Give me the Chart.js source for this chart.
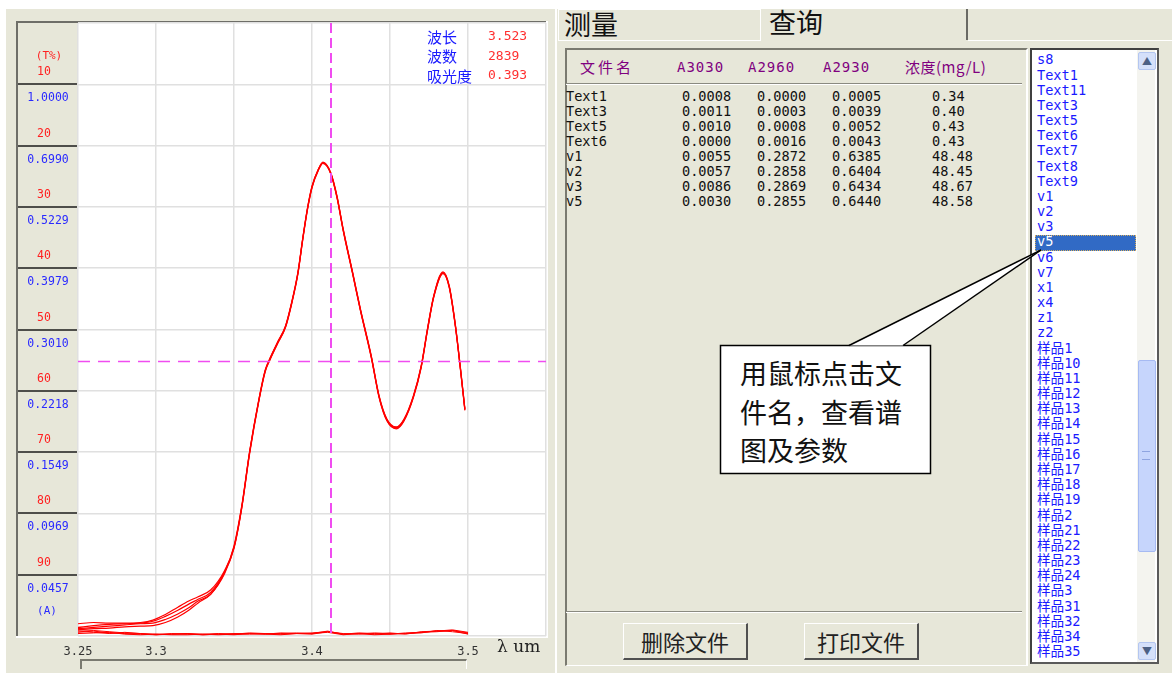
<!DOCTYPE html>
<html lang="zh">
<head>
<meta charset="UTF-8">
<title>查询</title>
<script src="https://cdn.jsdelivr.net/npm/chart.js"></script>
<style>
  body { margin:0; width:1172px; height:673px; background:#fff; position:relative; overflow:hidden;
         font-family:"Noto Sans CJK SC", sans-serif; }
  .abs { position:absolute; }
  .beige { background:#e7e7d9; }
  .mono { font-family:"DejaVu Sans Mono", monospace; }
  .btn { position:absolute; top:623px; height:34px; background:#e7e7d9; border-top:1px solid #fff; border-left:1px solid #fff;
         border-right:2px solid #505050; border-bottom:2px solid #505050; font-size:22px; line-height:34px; text-align:center; color:#222; }
  .sep { position:absolute; left:566px; width:456px; height:1px; background:#8a8a80; border-bottom:1px solid #fff; }
</style>
</head>
<body>
<!-- left chart panel -->
<div class="abs beige" style="left:6px;top:9px;width:549px;height:664px;"></div>
<canvas id="spec" class="abs" width="549" height="663" style="left:6px;top:9px;"></canvas>
<div class="abs" style="left:80px;top:659px;width:384px;height:8px;border-top:2px solid #7a7a70;border-left:2px solid #7a7a70;border-right:1px solid #fff;"></div>

<!-- right panel -->
<div class="abs beige" style="left:557px;top:9px;width:615px;height:664px;"></div>
<div class="abs" style="left:558px;top:9px;width:201px;height:30px;border-left:1px solid #fff;border-top:1px solid #fff;border-right:1px solid #fff;border-bottom:1px solid #fff;"></div>
<div class="abs" style="left:761px;top:9px;width:205px;height:31px;border-right:2px solid #6a6a64;"></div>
<div class="abs" style="left:968px;top:40px;width:204px;height:1px;background:#fff;"></div>
<div class="abs" style="left:564px;top:5px;font-size:27px;line-height:38px;color:#111;">测量</div>
<div class="abs" style="left:769px;top:3px;font-size:27px;line-height:38px;color:#111;">查询</div>

<div class="abs" style="left:565px;top:48px;width:459px;height:615px;border-left:2px solid #7a7a70;border-top:2px solid #7a7a70;border-right:2px solid #fff;border-bottom:1px solid #fff;"></div>
<div class="sep" style="top:83px;"></div>
<div class="sep" style="top:611px;"></div>
<div id="table"></div>
<div class="btn" style="left:623px;width:122px;">删除文件</div>
<div class="btn" style="left:804px;width:112px;">打印文件</div>

<!-- file list -->
<div class="abs" style="left:1030px;top:48px;width:125px;height:612px;background:#fff;border-left:2px solid #404040;border-top:2px solid #404040;border-right:2px solid #5a5a5a;border-bottom:2px solid #5a5a5a;"></div>
<div class="abs" style="left:1137px;top:50px;width:18px;height:612px;background:#f4f4ef;"></div>
<div class="abs" style="left:1138px;top:52px;width:16px;height:16px;background:#d5e0fa;border:1px solid #b4c6f0;border-radius:2px;color:#4d6185;font-size:10px;line-height:16px;text-align:center;">&#9650;</div>
<div class="abs" style="left:1138px;top:642px;width:16px;height:16px;background:#d5e0fa;border:1px solid #b4c6f0;border-radius:2px;color:#4d6185;font-size:10px;line-height:16px;text-align:center;">&#9660;</div>
<div class="abs" style="left:1138px;top:360px;width:16px;height:190px;background:#c6d5fc;border:1px solid #a6baf2;border-radius:2px;"></div>
<div class="abs" style="left:1142px;top:451px;width:8px;height:7px;border-top:1px solid #8ea4e0;border-bottom:1px solid #8ea4e0;"></div>
<div class="abs" style="left:1035px;top:235px;width:99px;height:14px;background:#316ac5;border:1px dotted #d8b060;"></div>
<div id="list"></div>

<!-- callout -->
<svg class="abs" style="left:0;top:0;pointer-events:none;" width="1172" height="673">
  <rect x="720.5" y="345.5" width="210" height="128" fill="#fff" stroke="#000" stroke-width="1.5"/>
  <polygon points="849,345.5 1041,250 903,345.5" fill="#fff" stroke="none"/>
  <line x1="849" y1="345.5" x2="1041" y2="250" stroke="#000" stroke-width="1.5"/>
  <line x1="903" y1="345.5" x2="1041" y2="250" stroke="#000" stroke-width="1.5"/>
</svg>
<div class="abs" style="left:740px;top:354px;font-size:27px;line-height:38.5px;color:#111;">
  <div>用鼠标点击文</div><div>件名，查看谱</div><div>图及参数</div>
</div>

<script>
// ---- spectrum data (x: wavelength um, y: transmittance %) ----
const sampleX = [3.250, 3.260, 3.270, 3.280, 3.290, 3.298, 3.306, 3.314, 3.321, 3.327, 3.335, 3.344,
  3.350, 3.355, 3.360, 3.366, 3.370, 3.373, 3.378, 3.383, 3.387, 3.391, 3.394, 3.397, 3.400, 3.404,
  3.407, 3.412, 3.416, 3.420, 3.426, 3.431, 3.438, 3.443, 3.448, 3.454, 3.459, 3.465, 3.470, 3.474,
  3.478, 3.484, 3.488, 3.492, 3.495, 3.498];
const sampleV1 = [98.0, 97.8, 97.9, 97.9, 97.8, 97.4, 96.5, 95.3, 94.3, 93.6, 92.5, 89.3,
  85.5, 78.9, 70.1, 61.5, 56.8, 54.8, 52.2, 49.6, 45.7, 40.8, 35.4, 30.5, 26.8, 24.0, 22.8, 24.5, 28.4, 33.8,
  40.8, 46.8, 54.5, 61.0, 64.8, 66.1, 64.8, 61.0, 56.1, 50.1, 44.7, 40.8, 43.1, 49.6, 56.1, 63.1];
const sampleV2 = [98.6, 98.3, 98.1, 98.0, 97.9, 97.6, 96.8, 95.8, 94.8, 94.0, 92.9, 89.5,
  85.7, 79.1, 70.3, 61.6, 56.9, 55.0, 52.3, 49.7, 45.8, 40.9, 35.5, 30.6, 26.9, 24.1, 22.9, 24.6, 28.5, 33.9,
  40.9, 46.9, 54.6, 61.1, 64.9, 66.2, 64.9, 61.1, 56.2, 50.2, 44.8, 40.9, 43.2, 49.7, 56.2, 63.2];
const sampleV3 = [98.8, 98.6, 98.4, 98.2, 98.0, 97.9, 97.3, 96.4, 95.4, 94.3, 93.2, 89.6,
  85.3, 78.7, 69.9, 61.3, 56.6, 54.7, 52.0, 49.4, 45.5, 40.6, 35.2, 30.3, 26.6, 23.9, 22.7, 24.4, 28.2, 33.6,
  40.6, 46.6, 54.3, 60.8, 64.6, 65.9, 64.6, 60.8, 55.9, 49.9, 44.5, 40.6, 42.9, 49.4, 55.9, 62.9];
const sampleV5 = [99.0, 98.8, 98.7, 98.5, 98.4, 98.3, 97.8, 96.9, 95.8, 94.6, 93.2, 89.8,
  85.6, 79.0, 70.0, 61.4, 56.7, 54.9, 52.1, 49.5, 45.6, 40.7, 35.3, 30.4, 26.7, 23.9, 22.8, 24.5, 28.3, 33.7,
  40.7, 46.7, 54.4, 60.9, 64.7, 66.0, 64.7, 60.9, 56.0, 50.0, 44.6, 40.7, 43.0, 49.5, 56.0, 63.0];

const blankX = [3.25, 3.26, 3.27, 3.28, 3.29, 3.30, 3.31, 3.32, 3.33, 3.34, 3.35, 3.36, 3.37,
  3.38, 3.39, 3.40, 3.41, 3.42, 3.43, 3.44, 3.45, 3.46, 3.47, 3.48, 3.49, 3.50];
const blankText1 = [99.0, 99.1, 99.3, 99.5, 99.6, 99.7, 99.7, 99.6, 99.7, 99.6, 99.7, 99.5, 99.6,
  99.6, 99.5, 99.6, 99.2, 99.7, 99.5, 99.6, 99.7, 99.5, 99.4, 99.2, 99.1, 99.5];
const blankText3 = [99.4, 99.2, 99.5, 99.6, 99.7, 99.8, 99.6, 99.7, 99.8, 99.7, 99.6, 99.6, 99.7,
  99.5, 99.6, 99.7, 99.3, 99.6, 99.7, 99.5, 99.6, 99.6, 99.5, 99.1, 99.3, 99.6];
const blankText5 = [99.6, 99.5, 99.4, 99.7, 99.8, 99.7, 99.8, 99.8, 99.7, 99.8, 99.7, 99.7, 99.6,
  99.7, 99.6, 99.6, 99.4, 99.8, 99.6, 99.7, 99.5, 99.7, 99.3, 99.2, 99.0, 99.4];
const blankText6 = [99.2, 99.4, 99.6, 99.4, 99.6, 99.8, 99.7, 99.6, 99.8, 99.7, 99.8, 99.6, 99.7,
  99.8, 99.6, 99.5, 99.3, 99.7, 99.6, 99.8, 99.7, 99.6, 99.4, 99.3, 99.1, 99.7];

// axis labels
const xTickValues = [3.25, 3.3, 3.4, 3.5];
const xTickLabels = ['3.25', '3.3', '3.4', '3.5'];
const xAxisTitle = 'λ um';
const tGrid = [10, 20, 30, 40, 50, 60, 70, 80, 90];
const tLabels = ['10', '20', '30', '40', '50', '60', '70', '80', '90'];
const aLabels = ['1.0000', '0.6990', '0.5229', '0.3979', '0.3010', '0.2218', '0.1549', '0.0969', '0.0457'];

// cursor + readout
const cursorX = 3.412;
const cursorT = 55.1;
const infoNames = ['波长', '波数', '吸光度'];
const infoValues = ['3.523', '2839', '0.393'];

// results table
const tableHeader = ['文件名', 'A3030', 'A2960', 'A2930', '浓度(mg/L)'];
const fileNames = ['Text1', 'Text3', 'Text5', 'Text6', 'v1', 'v2', 'v3', 'v5'];
const a3030 = ['0.0008', '0.0011', '0.0010', '0.0000', '0.0055', '0.0057', '0.0086', '0.0030'];
const a2960 = ['0.0000', '0.0003', '0.0008', '0.0016', '0.2872', '0.2858', '0.2869', '0.2855'];
const a2930 = ['0.0005', '0.0039', '0.0052', '0.0043', '0.6385', '0.6404', '0.6434', '0.6440'];
const conc = ['0.34', '0.40', '0.43', '0.43', '48.48', '48.45', '48.67', '48.58'];

const fileList = ['s8', 'Text1', 'Text11', 'Text3', 'Text5', 'Text6', 'Text7', 'Text8', 'Text9',
  'v1', 'v2', 'v3', 'v5', 'v6', 'v7', 'x1', 'x4', 'z1', 'z2',
  '样品1', '样品10', '样品11', '样品12', '样品13', '样品14', '样品15', '样品16', '样品17', '样品18', '样品19',
  '样品2', '样品21', '样品22', '样品23', '样品24', '样品3', '样品31', '样品32', '样品34', '样品35'];
const selectedFile = 'v5';

// ---- table and list ----
const headX = [580, 677, 748, 823, 905];
const colX = [566, 682, 757, 832, 932];
const tbl = document.getElementById('table');
tableHeader.forEach((h, i) => {
  const d = document.createElement('div');
  d.className = 'abs';
  d.style.cssText = `left:${headX[i]}px;top:56px;line-height:22px;color:#800080;white-space:nowrap;` +
    (i === 0 ? 'font-size:15px;letter-spacing:3px;' :
     i === 4 ? 'font-size:15px;letter-spacing:0.5px;' :
     'font-family:"DejaVu Sans Mono";font-size:14px;letter-spacing:1px;');
  d.textContent = h;
  tbl.appendChild(d);
});
const cols = [fileNames, a3030, a2960, a2930, conc];
fileNames.forEach((_, r) => {
  cols.forEach((col, c) => {
    const d = document.createElement('div');
    d.className = 'abs mono';
    d.style.cssText = `left:${colX[c]}px;top:${89 + r * 15.04}px;font-size:13.6px;line-height:15px;color:#111;`;
    d.textContent = col[r];
    tbl.appendChild(d);
  });
});

const list = document.getElementById('list');
fileList.forEach((name, i) => {
  const d = document.createElement('div');
  d.className = 'abs';
  const sel = name === selectedFile;
  d.style.cssText = `left:1037px;top:${52.4 + i * 15.17}px;line-height:15px;white-space:nowrap;color:${sel ? '#fff' : '#1a1aff'};` +
    'font-family:"DejaVu Sans Mono","Noto Sans CJK SC";font-size:13.6px;';
  d.textContent = name;
  list.appendChild(d);
});

// ---- chart ----
const panelPlugin = {
  id: 'panel',
  beforeDraw(chart) {
    const { ctx, chartArea: a, scales: { y } } = chart;
    ctx.save();
    ctx.fillStyle = '#fff';
    ctx.fillRect(a.left, a.top, a.right - a.left, a.bottom - a.top);
    // sunken frame
    ctx.fillStyle = '#6e6e68';
    ctx.fillRect(10, a.top - 2, a.right - 8, 2);
    ctx.fillRect(10, a.top - 2, 2, a.bottom - a.top + 3);
    ctx.fillStyle = '#fff';
    ctx.fillRect(a.right, a.top - 2, 2, a.bottom - a.top + 4);
    ctx.fillRect(10, a.bottom, a.right - 8, 2);
    // label column
    ctx.textBaseline = 'middle';
    tGrid.forEach((t, i) => {
      const py = Math.round(y.getPixelForValue(t));
      ctx.fillStyle = '#4e4e4a';
      ctx.fillRect(12, py - 1, a.left - 13, 2);
      ctx.font = '11.5px "DejaVu Sans Mono"';
      ctx.textAlign = 'left';
      ctx.fillStyle = '#ff2020';
      ctx.fillText(tLabels[i], 31, py - 12);
      ctx.textAlign = 'center';
      ctx.fillStyle = '#2a2aff';
      ctx.fillText(aLabels[i], 42, py + 14);
    });
    ctx.font = '11px "DejaVu Sans Mono"';
    ctx.textAlign = 'center';
    ctx.fillStyle = '#ff2020';
    ctx.fillText('(T%)', 43, y.getPixelForValue(0) + 33);
    ctx.fillStyle = '#2a2aff';
    ctx.fillText('(A)', 41, y.getPixelForValue(100) - 25);
    // x axis title
    ctx.font = '17px "DejaVu Serif"';
    ctx.textAlign = 'left';
    ctx.fillStyle = '#222';
    ctx.fillText(xAxisTitle, 491, a.bottom + 12);
    ctx.restore();
  },
  afterDatasetsDraw(chart) {
    const { ctx, chartArea: a, scales: { x, y } } = chart;
    ctx.save();
    ctx.strokeStyle = '#f04cf0';
    ctx.lineWidth = 2;
    ctx.setLineDash([10, 5]);
    const px = Math.round(x.getPixelForValue(cursorX));
    ctx.beginPath(); ctx.moveTo(px, a.top); ctx.lineTo(px, a.bottom); ctx.stroke();
    ctx.lineWidth = 1.3;
    ctx.setLineDash([12, 8]);
    const py = Math.round(y.getPixelForValue(cursorT)) + 0.5;
    ctx.beginPath(); ctx.moveTo(a.left, py); ctx.lineTo(a.right, py); ctx.stroke();
    ctx.setLineDash([]);
    // readout
    ctx.textBaseline = 'middle';
    infoNames.forEach((n, i) => {
      const ty = 28 + i * 19.5;
      ctx.font = '15px "Noto Sans CJK SC"';
      ctx.fillStyle = '#1a1aff';
      ctx.fillText(n, 421, ty);
      ctx.font = '13px "DejaVu Sans Mono"';
      ctx.fillStyle = '#ff3030';
      ctx.fillText(infoValues[i], 482, ty);
    });
    ctx.restore();
  }
};

function toPoints(xs, ys) { return ys.map((v, i) => ({ x: xs[i], y: v })); }
const lineStyle = { borderColor: '#ff0000', pointRadius: 0, fill: false };
const datasets = [
  ...[blankText1, blankText3, blankText5, blankText6].map(s => ({ ...lineStyle, data: toPoints(blankX, s), borderWidth: 1, tension: 0 })),
  ...[sampleV1, sampleV2, sampleV3, sampleV5].map(s => ({ ...lineStyle, data: toPoints(sampleX, s), borderWidth: 1.2, cubicInterpolationMode: 'monotone' }))
];

new Chart(document.getElementById('spec'), {
  type: 'line',
  data: { datasets },
  options: {
    responsive: false,
    animation: false,
    events: [],
    layout: { padding: { left: 72, top: 14, right: 9, bottom: 0 } },
    plugins: { legend: { display: false }, tooltip: { enabled: false } },
    scales: {
      x: {
        type: 'linear', min: 3.25, max: 3.55,
        afterFit: s => { s.height = 36; },
        border: { display: false },
        grid: { color: '#e0e0e0', lineWidth: 1.5, drawTicks: false },
        ticks: {
          stepSize: 0.05, autoSkip: false, maxRotation: 0, padding: 9, color: '#333',
          font: { family: 'DejaVu Sans Mono', size: 12 },
          callback: v => {
            const k = xTickValues.findIndex(t => Math.abs(t - v) < 1e-6);
            return k >= 0 ? xTickLabels[k] : '';
          }
        }
      },
      y: {
        min: 0, max: 100, reverse: true,
        afterFit: s => { s.width = 0; },
        border: { display: false },
        grid: { color: '#e0e0e0', lineWidth: 1.5, drawTicks: false },
        ticks: { display: false, stepSize: 10 }
      }
    }
  },
  plugins: [panelPlugin]
});
</script>
</body>
</html>
